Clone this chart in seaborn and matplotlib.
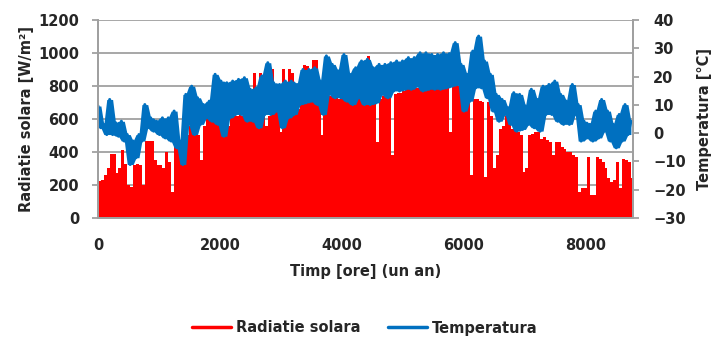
import numpy as np
import pandas as pd
import seaborn as sns
import matplotlib.pyplot as plt
from matplotlib.lines import Line2D

# one value every 48 hours (radiation = envelope of daily peaks,
# temperature alternates between upper and lower edge of the daily band)
radiatie = [
	222, 230, 260, 300, 390, 390, 270, 300, 410, 330, 200, 190, 320, 330, 320, 200,
	465, 465, 465, 350, 320, 320, 300, 400, 340, 160, 470, 460, 430, 330, 500,
	560, 540, 520, 500, 350, 560, 690, 600, 600, 620, 640, 600, 770, 560, 620, 640,
	620, 640, 620, 640, 600, 620, 880, 650, 880, 660, 560, 620, 900, 640, 760,
	520, 900, 600, 900, 880, 640, 660, 700, 930, 920, 700, 960, 960, 700, 500, 910,
	720, 740, 880, 880, 720, 760, 740, 760, 700, 780, 760, 760, 900, 940, 980,
	740, 720, 460, 720, 740, 740, 740, 380, 750, 760, 760, 770, 780, 780, 790, 790,
	790, 790, 790, 780, 790, 800, 800, 800, 800, 800, 790, 520, 800, 810,
	800, 780, 740, 700, 260, 720, 720, 710, 700, 250, 700, 620, 300, 380, 540, 560,
	620, 620, 540, 550, 520, 500, 280, 300, 500, 510, 520, 520, 480, 490, 470,
	460, 380, 460, 460, 430, 420, 400, 400, 380, 370, 160, 180, 180, 370, 140, 140,
	370, 360, 340, 300, 240, 220, 230, 340, 180, 360, 350, 340, 240,
]
temperatura = [
	9.6, 1.9, 3.1, -0.5, 11.9, -0.5, 3.7, -1.1, 4.2, -2.8, -0.5, -11.1, -2.8, -8.7, -0.5, -2.8,
	10.1, 1.9, 5.4, 0.7, 4.2, -0.5, 5.4, -1.7, 5.4, -2.8, 7.8, -5.2, -2.8, -11.1, 13.7,
	3.1, 16.6, -0.5, 12.5, 3.1, 10.1, 5.4, 11.3, 4.2, 20.8, 3.1, 18.4, -1.1, 17.8, 5.4, 18.4,
	6.6, 19.0, 6.6, 19.6, 4.2, 15.5, 4.2, 16.0, 1.9, 20.2, 6.6, 24.9, 6.6, 17.8, 7.8,
	17.2, 1.9, 18.4, 5.4, 18.4, 6.6, 17.2, 10.1, 22.5, 10.7, 22.5, 11.3, 23.1, 10.1, 18.4, 6.6,
	27.3, 13.7, 24.3, 12.5, 22.0, 12.5, 27.8, 11.3, 20.8, 10.1, 23.1, 12.5, 25.5, 10.1, 26.1,
	10.1, 23.1, 10.7, 24.3, 13.7, 24.3, 12.5, 24.9, 14.9, 25.5, 14.9, 25.5, 15.5, 26.7, 15.5, 26.7,
	16.6, 28.4, 14.9, 28.4, 15.5, 27.8, 15.5, 27.8, 15.5, 28.4, 16.0, 28.1, 16.6, 32.0,
	17.2, 24.3, 7.8, 20.8, 11.3, 29.0, 16.0, 34.3, 16.0, 25.5, 12.5, 20.8, 7.8, 13.7, 4.2, 11.9,
	6.6, 9.0, 3.1, 14.3, 0.7, 13.7, 1.3, 9.6, 3.1, 15.5, 1.9, 11.9, 0.7, 16.6, 6.6,
	17.2, 6.6, 18.4, 4.2, 13.7, 3.1, 11.3, 3.1, 17.2, 6.6, 10.1, -2.8, 4.2, -1.7, 3.1, -2.8,
	7.8, -1.7, 11.9, 0.7, 7.8, -2.8, 3.1, -5.2, 6.6, -2.8, 10.1, -0.5, 4.2,
]
pas_ore = 48
xticks = [0, 2000, 4000, 6000, 8000]
yticks_rad = [0, 200, 400, 600, 800, 1000, 1200]
yticks_temp = [-30, -20, -10, 0, 10, 20, 30, 40]

ore = np.arange(len(radiatie)) * pas_ore

# daily swing of the temperature: edges of the band from neighbouring readings
t = pd.Series(temperatura)
t_sus = t.rolling(3, center=True, min_periods=1).max()
t_jos = t.rolling(3, center=True, min_periods=1).min()

sns.set_style("white")
plt.rcParams['font.family'] = ['DejaVu Sans']
plt.rcParams['font.weight'] = 'bold'
plt.rcParams['axes.labelweight'] = 'bold'

rosu = '#FF0000'
albastru = '#0070C0'
gri = '#A0A0A0'

fig, ax = plt.subplots(figsize=(7.12, 3.39), dpi=100)
fig.subplots_adjust(left=0.1376, right=0.889, top=0.941, bottom=0.357)

x_fill = np.append(ore, ore[-1] + pas_ore)
y_fill = np.append(radiatie, radiatie[-1])
ax.fill_between(x_fill, y_fill, step='post', color=rosu, lw=0)

ax.set_xlim(0, 8770)
ax.set_ylim(0, 1200)
ax.set_xticks(xticks)
ax.set_yticks(yticks_rad)
ax.grid(axis='y', color=gri, lw=1.3)
ax.set_axisbelow(True)

ax2 = ax.twinx()
ax2.fill_between(ore, t_jos, t_sus, color=albastru, lw=0)
sns.lineplot(x=ore, y=temperatura, ax=ax2, color=albastru, lw=2.2, legend=False)
ax2.set_ylim(-30, 40)
ax2.set_yticks(yticks_temp)

for a in (ax, ax2):
	for s in a.spines.values():
		s.set_color(gri)
		s.set_linewidth(1.3)
	a.spines['top'].set_visible(False)
	a.tick_params(labelsize=10.5, color=gri, width=1.3, length=4.5, direction='out')

ax.tick_params(axis='x', pad=10)
ax.tick_params(axis='y', pad=9)
ax2.tick_params(axis='y', pad=10)

ax.set_xlabel('Timp [ore] (un an)', fontsize=10.5, labelpad=8)
ax.set_ylabel('Radiatie solara [W/m²]', fontsize=10.5, labelpad=3)
ax2.set_ylabel('Temperatura [°C]', fontsize=10.5, labelpad=8)

handles = [Line2D([], [], color=rosu, lw=2.5), Line2D([], [], color=albastru, lw=2.5)]
fig.legend(handles, ['Radiatie solara', 'Temperatura'], loc='center',
		   bbox_to_anchor=(0.512, 1 - 328 / 339), ncol=2, frameon=False,
		   fontsize=10.5, handlelength=2.7, handletextpad=0.3, columnspacing=1.9,
		   borderaxespad=0)

fig.savefig('out.png', dpi=100)
